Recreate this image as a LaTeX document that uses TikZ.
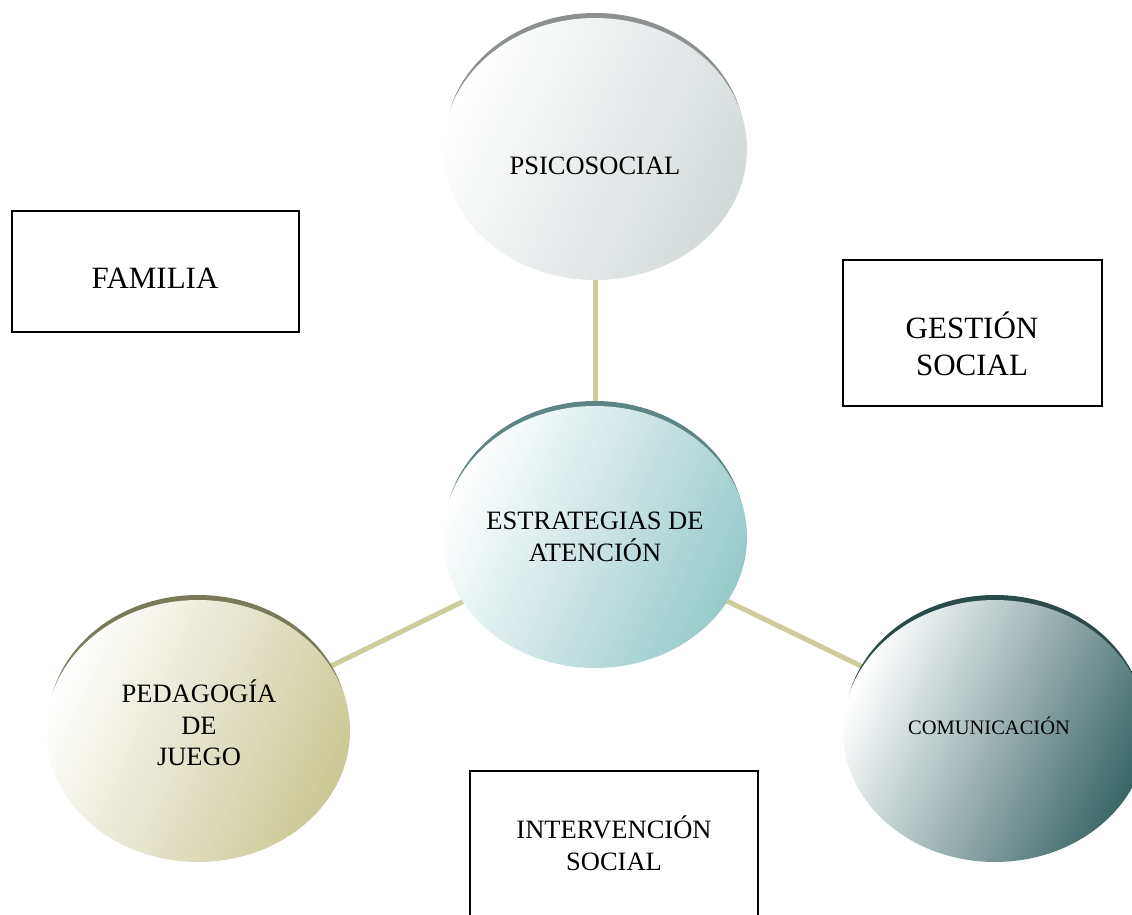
\documentclass[tikz,border=0pt]{standalone}
\usepackage{fontspec}
\setmainfont{Liberation Serif}
\usetikzlibrary{shapes.geometric,backgrounds,calc}
\pgfdeclarelayer{crest}
\pgfsetlayers{background,crest,main}
\definecolor{linkc}{HTML}{CDCC9A}
\definecolor{psiC}{HTML}{D3DADA}
\definecolor{psiD}{HTML}{8C9090}
\definecolor{estC}{HTML}{98CACA}
\definecolor{estD}{HTML}{5E8585}
\definecolor{pedC}{HTML}{CBC896}
\definecolor{pedD}{HTML}{7B7A58}
\definecolor{comC}{HTML}{3A6666}
\definecolor{comD}{HTML}{2B4A4A}
\begin{document}
\begin{tikzpicture}[x=1pt,y=-1pt,
  bubble/.style={ellipse, minimum width=304pt, minimum height=262pt, inner sep=0pt},
  shadeto/.style={left color=white, middle color=#1!22!white, right color=#1, shading angle=65},
  btext/.style={align=center, inner sep=0pt, font=\fontsize{26.5}{31.5}\selectfont},
  bigtext/.style={align=center, inner sep=0pt, font=\fontsize{31}{37}\selectfont},
  box/.style={draw=black, line width=1.5pt, rectangle, inner sep=0pt},
  link/.style={draw=linkc, line width=5pt}]
\useasboundingbox (0,0) rectangle (1132,915);

% bubbles
\node[bubble, shadeto=psiC] (psi) at (595,149) {};
\node[bubble, shadeto=estC] (est) at (595,537) {};
\node[bubble, shadeto=pedC] (ped) at (198,731) {};
\node[bubble, shadeto=comC] (com) at (995,731) {};

% crescents
\begin{pgfonlayer}{crest}
\fill[psiD] ($(psi.center)+(0,-6)$) ellipse [x radius=150pt, y radius=130pt];
\fill[estD] ($(est.center)+(0,-6)$) ellipse [x radius=150pt, y radius=130pt];
\fill[pedD] ($(ped.center)+(0,-6)$) ellipse [x radius=150pt, y radius=130pt];
\fill[comD] ($(com.center)+(0,-6)$) ellipse [x radius=150pt, y radius=130pt];
\end{pgfonlayer}

% connectors
\begin{pgfonlayer}{background}
\draw[link] (est.center) -- (psi.center);
\draw[link] (est.center) -- (ped.center);
\draw[link] (est.center) -- (com.center);
\end{pgfonlayer}

% bubble texts
\node[btext] (psiT) at (595,166) {PSICOSOCIAL};
\node[btext] (estT) at (595,537) {ESTRATEGIAS DE\\ATENCIÓN};
\node[btext] (pedT) at (199,723) {PEDAGOGÍA\\DE\\JUEGO};
\node[btext, font=\fontsize{20.5}{24}\selectfont] (comT) at (989,726) {COMUNICACIÓN};

% boxes
\node[box, minimum width=287pt, minimum height=121pt] (fam) at (155.5,271.5) {};
\node[bigtext] (famT) at (155,278) {FAMILIA};
\node[box, minimum width=259pt, minimum height=146pt] (ges) at (972.5,333) {};
\node[bigtext] (gesT) at (972,344) {GESTIÓN\\SOCIAL};
\node[box, minimum width=288pt, minimum height=170pt] (int) at (614,856) {};
\node[btext] (intT) at (614,843) {INTERVENCIÓN\\SOCIAL};
\end{tikzpicture}
\end{document}
